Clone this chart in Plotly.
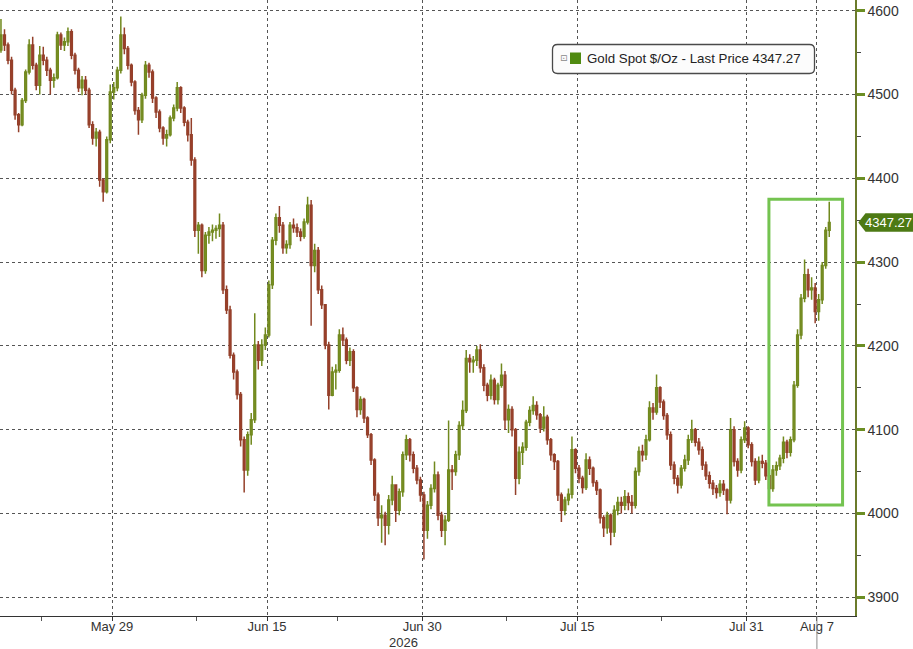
import pandas as pd
import plotly.graph_objects as go

# ---------------- data (6-hour bars) ----------------
first_open = 4553
closes = [
    4571, 4559, 4541, 4505,   # May 19
    4476, 4464, 4493, 4527,   # May 20
    4559, 4535, 4511, 4547,   # May 21
    4541, 4529, 4517, 4520,   # May 22
    4571, 4559, 4563, 4575,   # May 25
    4547, 4529, 4508, 4517,   # May 26
    4505, 4464, 4448, 4455,   # May 27
    4398, 4384, 4446, 4503,   # May 28
    4508, 4529, 4571, 4555,   # May 29
    4535, 4515, 4481, 4470,   # Jun 1
    4499, 4535, 4527, 4496,   # Jun 2
    4479, 4460, 4448, 4452,   # Jun 3
    4472, 4484, 4508, 4484,   # Jun 4
    4467, 4452, 4422, 4338,   # Jun 5
    4344, 4290, 4332, 4336,   # Jun 8
    4338, 4340, 4344, 4267,   # Jun 9
    4243, 4189, 4169, 4142,   # Jun 10
    4088, 4052, 4094, 4112,   # Jun 11
    4201, 4183, 4201, 4213,   # Jun 12
    4273, 4326, 4353, 4344,   # Jun 15
    4317, 4321, 4344, 4341,   # Jun 16
    4336, 4331, 4348, 4368,   # Jun 17
    4296, 4314, 4267, 4249,   # Jun 18
    4201, 4141, 4169, 4171,   # Jun 19
    4213, 4207, 4183, 4193,   # Jun 22
    4150, 4124, 4136, 4114,   # Jun 23
    4094, 4064, 4022, 3995,   # Jun 24
    3998, 3986, 4016, 4034,   # Jun 25
    4004, 4026, 4070, 4088,   # Jun 26
    4070, 4054, 4040, 4022,   # Jun 29
    3980, 4010, 4030, 4046,   # Jun 30
    3998, 3980, 3992, 4052,   # Jul 1
    4050, 4070, 4105, 4123,   # Jul 2
    4185, 4181, 4183, 4195,   # Jul 3
    4174, 4153, 4141, 4159,   # Jul 6
    4136, 4153, 4165, 4112,   # Jul 7
    4124, 4100, 4042, 4073,   # Jul 8
    4079, 4109, 4123, 4129,   # Jul 9
    4118, 4102, 4115, 4088,   # Jul 10
    4070, 4062, 4022, 4004,   # Jul 13
    4016, 4023, 4076, 4054,   # Jul 14
    4042, 4031, 4064, 4054,   # Jul 15
    4037, 4028, 3995, 3983,   # Jul 16
    3998, 3978, 4004, 4013,   # Jul 17
    4010, 4020, 4013, 4010,   # Jul 20
    4050, 4074, 4070, 4088,   # Jul 21
    4126, 4121, 4150, 4133,   # Jul 22
    4117, 4094, 4058, 4042,   # Jul 23
    4034, 4054, 4064, 4088,   # Jul 24
    4100, 4085, 4076, 4058,   # Jul 27
    4045, 4036, 4030, 4025,   # Jul 28
    4035, 4028, 4016, 4100,   # Jul 29
    4062, 4052, 4088, 4102,   # Jul 30
    4082, 4062, 4040, 4062,   # Jul 31
    4060, 4045, 4030, 4052,   # Aug 3
    4057, 4066, 4085, 4073,   # Aug 4
    4088, 4153, 4213, 4257,   # Aug 5
    4285, 4267, 4269, 4241,   # Aug 6
    4255, 4296, 4338, 4347.27,  # Aug 7
]
highs = [
    4590, 4578, 4562, 4545,
    4508, 4478, 4496, 4530,
    4566, 4569, 4538, 4558,
    4557, 4545, 4532, 4525,
    4575, 4574, 4568, 4580,
    4578, 4550, 4532, 4522,
    4522, 4508, 4468, 4460,
    4458, 4400, 4450, 4512,
    4515, 4533, 4593, 4580,
    4558, 4537, 4517, 4485,
    4502, 4540, 4538, 4530,
    4498, 4482, 4462, 4458,
    4475, 4488, 4515, 4510,
    4486, 4470, 4472, 4425,
    4348, 4346, 4336, 4342,
    4345, 4344, 4358, 4348,
    4272, 4248, 4192, 4172,
    4145, 4092, 4098, 4120,
    4239, 4206, 4208, 4222,
    4278, 4330, 4358, 4367,
    4348, 4326, 4348, 4352,
    4346, 4340, 4352, 4378,
    4374, 4322, 4318, 4272,
    4250, 4205, 4175, 4178,
    4220, 4222, 4210, 4198,
    4196, 4152, 4140, 4138,
    4116, 4096, 4066, 4025,
    4010, 4002, 4022, 4045,
    4035, 4030, 4074, 4094,
    4090, 4074, 4058, 4044,
    4026, 4015, 4035, 4062,
    4050, 4002, 3998, 4111,
    4058, 4075, 4110, 4135,
    4195, 4190, 4188, 4200,
    4202, 4178, 4156, 4166,
    4162, 4156, 4179, 4170,
    4130, 4128, 4102, 4080,
    4085, 4112, 4128, 4140,
    4134, 4120, 4128, 4118,
    4090, 4072, 4064, 4025,
    4020, 4030, 4092, 4078,
    4058, 4045, 4072, 4068,
    4056, 4040, 4030, 3998,
    4002, 4000, 4010, 4020,
    4020, 4028, 4025, 4022,
    4055, 4080, 4082, 4094,
    4134, 4132, 4166, 4152,
    4136, 4120, 4098, 4062,
    4046, 4058, 4070, 4094,
    4112, 4102, 4090, 4080,
    4062, 4050, 4040, 4034,
    4040, 4040, 4030, 4114,
    4104, 4066, 4092, 4110,
    4104, 4085, 4066, 4068,
    4070, 4064, 4048, 4058,
    4062, 4070, 4092, 4088,
    4092, 4158, 4220, 4262,
    4303, 4292, 4282, 4275,
    4262, 4300, 4342, 4372,
]
lows = [
    4550, 4552, 4536, 4500,
    4470, 4455, 4462, 4490,
    4524, 4530, 4505, 4500,
    4535, 4522, 4500, 4508,
    4518, 4553, 4552, 4558,
    4542, 4524, 4503, 4499,
    4500, 4460, 4440, 4438,
    4390, 4372, 4382, 4442,
    4494, 4504, 4525, 4548,
    4530, 4510, 4476, 4452,
    4466, 4495, 4520, 4490,
    4472, 4455, 4440, 4438,
    4450, 4468, 4480, 4478,
    4462, 4444, 4415, 4330,
    4310, 4282, 4286, 4322,
    4325, 4328, 4330, 4262,
    4238, 4185, 4160, 4136,
    4080, 4025, 4045, 4082,
    4108, 4172, 4176, 4195,
    4210, 4268, 4320, 4335,
    4310, 4310, 4316, 4335,
    4330, 4325, 4328, 4345,
    4224, 4288, 4262, 4244,
    4196, 4124, 4140, 4148,
    4168, 4200, 4178, 4176,
    4145, 4115, 4118, 4108,
    4090, 4058, 4015, 3985,
    3965, 3962, 3975, 4010,
    3990, 3998, 4020, 4064,
    4062, 4048, 4035, 4014,
    3945, 3970, 4005, 4025,
    3992, 3972, 3962, 3990,
    4028, 4045, 4064, 4100,
    4120, 4168, 4168, 4176,
    4168, 4146, 4134, 4136,
    4130, 4130, 4150, 4100,
    4096, 4092, 4022, 4035,
    4058, 4075, 4104, 4118,
    4112, 4096, 4098, 4082,
    4063, 4052, 4015, 3990,
    3998, 4010, 4018, 4048,
    4036, 4024, 4028, 4046,
    4032, 4022, 3988, 3972,
    3976, 3962, 3972, 3998,
    4000, 4004, 4004, 4000,
    4006, 4045, 4062, 4064,
    4086, 4112, 4118, 4126,
    4112, 4088, 4052, 4035,
    4024, 4030, 4050, 4058,
    4084, 4080, 4070, 4052,
    4040, 4030, 4022, 4018,
    4020, 4022, 3999, 4012,
    4056, 4044, 4048, 4084,
    4078, 4056, 4034, 4036,
    4054, 4040, 4018, 4026,
    4045, 4052, 4060, 4066,
    4068, 4085, 4150, 4208,
    4252, 4258, 4255, 4227,
    4230, 4250, 4292, 4330,
]

trading_days = pd.bdate_range("2026-05-19", "2026-08-07")
bar_hours = [3, 9, 15, 21]

tick_dates = ["2026-05-29", "2026-06-15", "2026-06-30", "2026-07-15", "2026-07-31", "2026-08-07"]
tick_labels = ["May 29", "Jun 15", "Jun 30", "Jul 15", "Jul 31", "Aug 7"]
minor_tick_dates = ["2026-05-22", "2026-06-08", "2026-06-22", "2026-07-08", "2026-07-23"]
year_label = "2026"

price_ticks = [3900, 4000, 4100, 4200, 4300, 4400, 4500, 4600]
price_minor_ticks = [3950, 4050, 4150, 4250, 4350, 4450, 4550]

series_name = "Gold Spot $/Oz - Last Price"

# ---------------- build ----------------
times = [d + pd.Timedelta(hours=h) for d in trading_days for h in bar_hours]
assert len(times) == len(closes) == len(highs) == len(lows)
opens = [first_open] + closes[:-1]
last_price = closes[-1]

UP_LINE, UP_FILL = "#71891e", "#8a9c34"
DN_LINE, DN_FILL = "#94402a", "#ad3a2a"

fig = go.Figure()
fig.add_trace(go.Candlestick(
    x=times, open=opens, high=highs, low=lows, close=closes,
    increasing=dict(line=dict(color=UP_LINE, width=1.5), fillcolor=UP_FILL),
    decreasing=dict(line=dict(color=DN_LINE, width=1.5), fillcolor=DN_FILL),
    whiskerwidth=0, showlegend=False, hoverinfo="skip",
))

regular = "Liberation Sans, Arial, DejaVu Sans, sans-serif"

fig.update_layout(
    width=913, height=649,
    margin=dict(l=0, r=58, t=0, b=33),
    paper_bgcolor="white", plot_bgcolor="white",
    showlegend=False,
    xaxis=dict(
        type="date",
        range=["2026-05-19 01:20", "2026-08-11 16:50"],
        rangebreaks=[dict(bounds=["sat", "mon"])],
        rangeslider=dict(visible=False),
        tickmode="array", tickvals=tick_dates, ticktext=tick_labels,
        showgrid=True, gridcolor="#555555", griddash="dot", gridwidth=1,
        showline=True, linecolor="#333333", linewidth=1,
        ticks="outside", ticklen=4, tickcolor="#333333", tickwidth=1,
        ticklabelstandoff=-6,
        tickfont=dict(family=regular, size=13, color="#333333"),
        minor=dict(tickmode="array", tickvals=minor_tick_dates, ticks="outside",
                   ticklen=4, tickcolor="#555555", showgrid=False),
        zeroline=False, fixedrange=True,
    ),
    yaxis=dict(
        side="right",
        range=[3877.7, 4612.8],
        tickmode="array", tickvals=price_ticks,
        showgrid=True, gridcolor="#555555", griddash="dot", gridwidth=1,
        showline=True, linecolor="#6b7b2b", linewidth=1.5,
        ticks="outside", ticklen=8, tickwidth=3, tickcolor="#6b8e23",
        tickfont=dict(family=regular, size=14, color="#333333"),
        minor=dict(tickmode="array", tickvals=price_minor_ticks, ticks="outside",
                   ticklen=4, tickcolor="#444444", tickwidth=1, showgrid=False),
        zeroline=False, fixedrange=True,
    ),
)

# highlight box around the final rally
fig.add_shape(type="rect", xref="x", yref="y",
              x0="2026-08-03 14:18", x1="2026-08-10 19:40", y0=4010.2, y1=4374.9,
              line=dict(color="#74c350", width=3), fillcolor="rgba(0,0,0,0)")

# cursor line under the last date tick
fig.add_shape(type="line", xref="x", yref="paper",
              x0=tick_dates[-1], x1=tick_dates[-1], y0=0, y1=-0.0536,
              line=dict(color="#8a8a8a", width=1))

# legend box (rounded rectangle)
x0, x1, yt, yb = 552.5 / 855, 814.5 / 855, 1 - 44.5 / 616, 1 - 73.5 / 616
rx, ry = 5 / 855, 5 / 616
path = (f"M {x0+rx},{yt} L {x1-rx},{yt} Q {x1},{yt} {x1},{yt-ry} "
        f"L {x1},{yb+ry} Q {x1},{yb} {x1-rx},{yb} L {x0+rx},{yb} "
        f"Q {x0},{yb} {x0},{yb+ry} L {x0},{yt-ry} Q {x0},{yt} {x0+rx},{yt} Z")
fig.add_shape(type="path", xref="paper", yref="paper", path=path,
              line=dict(color="#4a4a4a", width=1.3), fillcolor="#fcfcfc")
fig.add_shape(type="rect", xref="paper", yref="paper",
              x0=570 / 855, x1=581 / 855, y0=1 - 64 / 616, y1=1 - 52.5 / 616,
              line=dict(width=0), fillcolor="#4f8a10")
fig.add_annotation(xref="paper", yref="paper", x=563.5 / 855, y=1 - 58.5 / 616,
                   text="⊡", showarrow=False, xanchor="center", yanchor="middle",
                   font=dict(family="DejaVu Sans", size=9, color="#8a8a8a"))
fig.add_annotation(xref="paper", yref="paper", x=585 / 855, y=1 - 58.8 / 616,
                   text=f"{series_name} {last_price:.2f}", showarrow=False,
                   xanchor="left", yanchor="middle",
                   font=dict(family=regular, size=13.3, color="#222222"))

# last-price tag on the axis
hh = 11.0
xt, xb, xr = 858.3 / 855, 865.5 / 855, 913 / 855
tag = (f"M {xt},{last_price} L {xb},{last_price + hh} L {xr},{last_price + hh} "
       f"L {xr},{last_price - hh} L {xb},{last_price - hh} Z")
fig.add_shape(type="path", xref="paper", yref="y", path=tag,
              line=dict(width=0), fillcolor="#4d7a14")
fig.add_annotation(xref="paper", yref="y", x=888.5 / 855, y=last_price,
                   text=f"{last_price:.2f}", showarrow=False,
                   xanchor="center", yanchor="middle",
                   font=dict(family=regular, size=13, color="white"))

# year label under the date axis
fig.add_annotation(xref="paper", yref="paper", x=403 / 855, y=-26 / 616,
                   text=year_label, showarrow=False, xanchor="center", yanchor="middle",
                   font=dict(family=regular, size=13, color="#333333"))

fig.write_html(
    "out.html",
    config={"displayModeBar": False},
    post_script="document.body.style.margin='0px';document.body.style.overflow='hidden';",
)
